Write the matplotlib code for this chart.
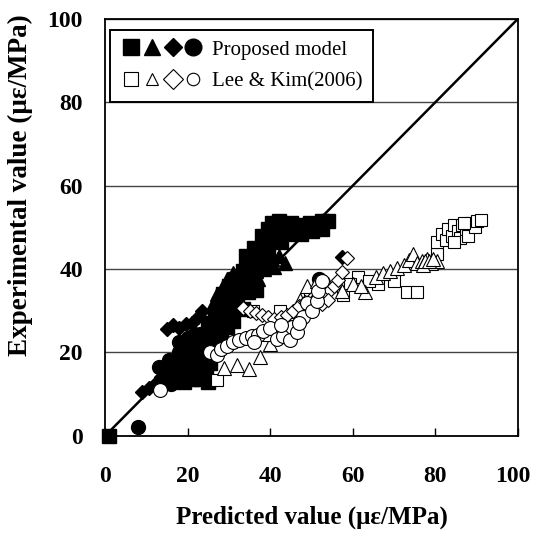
import matplotlib.pyplot as plt
import matplotlib.transforms as mtrans
from matplotlib.lines import Line2D
from matplotlib.legend_handler import HandlerTuple

plt.rcParams['font.family'] = ['Liberation Serif', 'DejaVu Serif']

# Proposed model (filled markers)
prop_sq_x = [40.5, 42.0, 43.5, 45.0, 46.5, 48.0, 49.5, 51.0, 52.5, 54.0, 50.0, 52.5, 47.5, 44.5,
             42.0, 39.5, 40.5, 38.5, 42.5, 39.5, 37.5, 36.5, 35.0, 33.5, 32.5, 31.0, 33.5, 35.5,
             30.0, 32.0, 34.5, 36.5, 29.0, 31.5, 33.5, 28.0, 30.5, 27.5, 29.5, 26.0, 28.0, 25.5,
             24.5, 25.5, 19.0, 21.0, 23.0, 25.0, 24.5, 22.5, 20.5, 18.0, 23.5, 1.0,
             26.5, 27.5, 28.5, 30.0, 31.5, 25.0, 26.0, 24.0, 27.0, 29.5, 31.0, 17.0, 19.0, 21.0,
             22.0, 24.0, 34.0, 36.0, 38.0]
prop_sq_y = [51.0, 51.5, 50.5, 51.0, 50.0, 50.5, 51.0, 50.5, 51.5, 51.5, 49.0, 49.5, 48.5, 48.5,
             49.0, 49.5, 47.0, 46.5, 46.5, 44.5, 44.0, 42.5, 40.5, 39.5, 38.0, 36.5, 36.0, 37.5,
             34.5, 33.5, 34.5, 35.0, 32.0, 31.0, 30.5, 29.5, 28.5, 27.0, 26.0, 24.0, 23.5, 21.5,
             19.5, 17.5, 13.0, 13.5, 13.5, 13.0, 15.5, 16.0, 15.5, 14.5, 18.0, 0.0,
             29.0, 31.5, 34.0, 36.0, 37.5, 27.0, 25.5, 23.0, 22.0, 29.5, 27.5, 14.0, 17.0, 18.0,
             21.0, 21.0, 43.0, 45.0, 48.0]

prop_tri_x = [37.5, 39.0, 40.5, 42.0, 43.5, 41.0, 38.5, 36.5, 35.0, 37.0, 34.0, 32.0, 29.5, 28.5,
              27.0, 26.0, 29.0, 30.5, 32.5, 34.5, 33.0, 31.0, 33.0, 35.5]
prop_tri_y = [41.5, 42.0, 42.5, 43.0, 41.5, 40.5, 40.0, 39.5, 38.5, 37.5, 36.5, 35.0, 37.5, 36.0,
              34.0, 31.5, 33.0, 30.0, 32.5, 42.0, 40.5, 39.0, 38.0, 41.0]

prop_dia_x = [9.0, 10.5, 12.0, 13.5, 15.0, 16.5, 18.0, 19.5, 21.0, 22.5, 21.5, 23.5, 57.4]
prop_dia_y = [10.5, 11.5, 12.5, 14.0, 25.5, 26.5, 25.8, 26.8, 27.0, 28.5, 25.0, 30.0, 42.9]

prop_cir_x = [8.0, 13.0, 14.5, 15.5, 16.5, 17.8, 18.5, 19.5, 20.5, 21.5, 22.5, 23.0, 24.0, 51.7,
              14.0, 16.0, 18.0, 20.0]
prop_cir_y = [2.0, 16.5, 15.0, 18.2, 16.5, 20.0, 18.0, 21.5, 19.5, 22.5, 20.5, 24.5, 22.5, 37.5,
              13.0, 12.5, 22.5, 23.5]

# Lee & Kim (2006) (open markers)
lee_sq_x = [80.5, 80.5, 81.5, 82.5, 83.0, 84.0, 84.5, 85.5, 86.0, 86.5, 87.5, 88.0, 88.5, 89.5,
            90.0, 91.0, 84.5, 87.0, 73.0, 75.6, 61.3, 59.3, 66.0, 70.0, 64.0, 42.4, 35.9, 49.6,
            57.6, 27.2]
lee_sq_y = [43.5, 46.5, 48.5, 47.0, 49.5, 48.0, 50.5, 49.0, 47.5, 50.5, 49.5, 48.0, 51.0, 50.0,
            51.5, 51.8, 46.5, 51.0, 34.4, 34.4, 38.0, 36.5, 36.5, 37.0, 37.0, 29.8, 29.8, 34.3,
            33.8, 13.4]

lee_tri_x = [28.8, 31.9, 34.9, 37.6, 40.0, 39.5, 44.3, 47.2, 48.9, 51.3, 54.0, 57.4, 60.0, 63.0,
             65.5, 67.3, 69.0, 70.8, 72.4, 73.6, 74.5, 75.5, 76.8, 78.0, 79.0, 80.5, 62.0, 46.0,
             77.0, 77.5, 78.5, 79.5]
lee_tri_y = [16.2, 17.0, 16.0, 18.8, 22.0, 24.5, 27.0, 32.6, 36.0, 37.0, 36.5, 34.6, 36.5, 34.5,
             38.0, 39.0, 39.6, 40.3, 41.0, 42.2, 43.5, 41.5, 42.0, 42.3, 41.5, 42.0, 36.0, 30.0,
             41.0, 41.8, 42.0, 42.5]

lee_dia_x = [33.4, 35.0, 36.5, 38.0, 39.5, 41.0, 42.5, 44.0, 45.5, 47.0, 48.5, 50.0, 51.5, 53.0,
             54.5, 55.5, 56.4, 57.4, 58.5, 52.5, 54.0]
lee_dia_y = [30.7, 30.0, 29.5, 29.0, 28.5, 28.0, 28.5, 29.0, 30.0, 31.0, 32.0, 33.0, 33.5, 34.0,
             35.0, 36.0, 37.4, 39.3, 42.7, 31.5, 32.5]

lee_cir_x = [13.3, 25.4, 27.0, 28.0, 29.5, 31.0, 32.5, 34.0, 35.5, 37.0, 38.3, 40.0, 41.6, 43.0,
             44.8, 45.3, 46.5, 48.0, 49.0, 50.0, 51.3, 51.6, 52.5, 47.0, 42.5, 36.0]
lee_cir_y = [11.0, 20.0, 19.4, 20.8, 21.5, 22.5, 23.0, 23.5, 24.0, 24.2, 25.2, 25.8, 23.2, 24.0,
             23.0, 26.2, 25.0, 28.5, 31.8, 30.0, 32.2, 34.6, 37.0, 27.0, 26.5, 22.5]

ticks = [0, 20, 40, 60, 80, 100]

fig = plt.figure(figsize=(5.34, 5.36), dpi=100)
ax = fig.add_axes([0.197, 0.187, 0.773, 0.778])

ax.plot([0, 100], [0, 100], color='black', lw=1.8, zorder=2)

filled = dict(ls='none', color='black', zorder=3, clip_on=False)
ax.plot(prop_sq_x, prop_sq_y, marker='s', ms=9.5, **filled)
ax.plot(prop_tri_x, prop_tri_y, marker='^', ms=10.5, **filled)
ax.plot(prop_dia_x, prop_dia_y, marker='D', ms=7.5, **filled)
ax.plot(prop_cir_x, prop_cir_y, marker='o', ms=10, **filled)

hollow = dict(ls='none', mfc='white', mec='black', mew=0.8, zorder=4)
ax.plot(lee_sq_x, lee_sq_y, marker='s', ms=9, **hollow)
ax.plot(lee_tri_x, lee_tri_y, marker='^', ms=10, **hollow)
ax.plot(lee_dia_x, lee_dia_y, marker='D', ms=7, **hollow)
ax.plot(lee_cir_x, lee_cir_y, marker='o', ms=10, **hollow)

ax.set_xlim(0, 100)
ax.set_ylim(0, 100)
ax.set_xticks(ticks)
ax.set_yticks(ticks)
ax.yaxis.grid(True, color='#444444', lw=1)
ax.set_axisbelow(True)
for s in ax.spines.values():
    s.set_linewidth(1.3)
ax.tick_params(axis='x', direction='in', length=6, width=1, labelsize=17, pad=22)
ax.tick_params(axis='y', direction='in', length=0, labelsize=17, pad=16)
plt.setp(ax.get_xticklabels() + ax.get_yticklabels(), fontweight='bold')
# pull the last x label in so it stays inside the figure
last = ax.get_xticklabels()[-1]
last.set_transform(last.get_transform() + mtrans.ScaledTranslation(-0.05, 0, fig.dpi_scale_trans))

ax.set_xlabel('Predicted value (\u03bc\u03b5/MPa)', fontsize=18, fontweight='bold', labelpad=13)
ax.set_ylabel('Experimental value (\u03bc\u03b5/MPa)', fontsize=19.5, fontweight='bold')
ax.yaxis.set_label_coords(-0.175, 0.60)

h_prop = (Line2D([], [], ls='none', marker='s', ms=11, color='black'),
          Line2D([], [], ls='none', marker='^', ms=12, color='black'),
          Line2D([], [], ls='none', marker='D', ms=9, color='black'),
          Line2D([], [], ls='none', marker='o', ms=12, color='black'))
h_lee = (Line2D([], [], ls='none', marker='s', ms=10, mfc='white', mec='black', mew=0.8),
         Line2D([], [], ls='none', marker='^', ms=8, mfc='white', mec='black', mew=0.8),
         Line2D([], [], ls='none', marker='D', ms=10, mfc='white', mec='black', mew=0.8),
         Line2D([], [], ls='none', marker='o', ms=9, mfc='white', mec='black', mew=0.8))
leg = ax.legend([h_prop, h_lee], ['Proposed model', 'Lee & Kim(2006)'],
                handler_map={tuple: HandlerTuple(ndivide=None, pad=0.0)},
                loc='upper left', bbox_to_anchor=(0.012, 0.974), borderaxespad=0,
                fancybox=False, edgecolor='black', framealpha=1, fontsize=15,
                handlelength=4.0, handletextpad=0.4, borderpad=0.5, labelspacing=0.6)
leg.get_frame().set_linewidth(1.4)

fig.savefig('out.png', dpi=100)
